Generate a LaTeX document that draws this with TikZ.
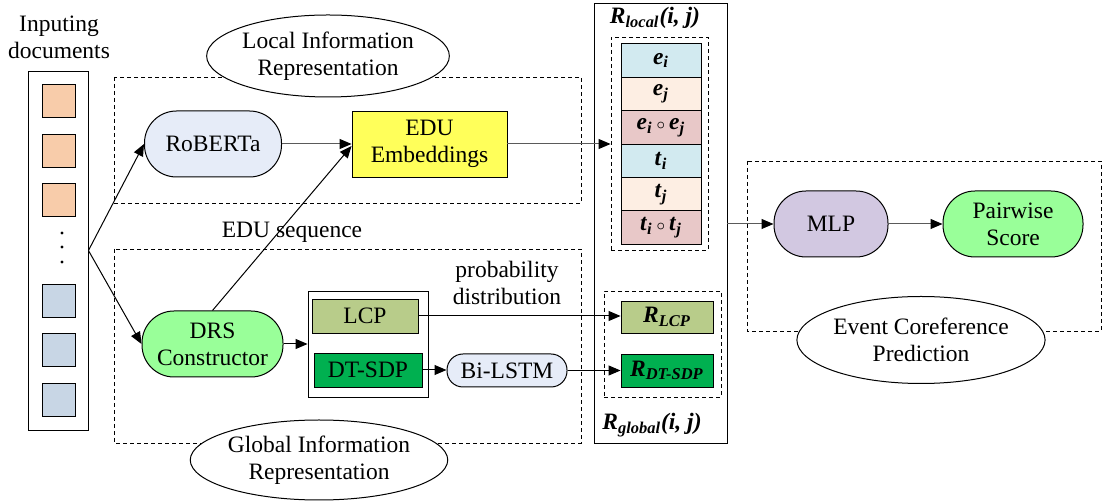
\documentclass[tikz,border=0pt]{standalone}
\usepackage{fontspec}
\setmainfont{Liberation Serif}
\usetikzlibrary{arrows.meta,shapes.geometric}
\definecolor{docor}{RGB}{248,204,170}
\definecolor{docbl}{RGB}{200,214,229}
\definecolor{pillblue}{RGB}{230,236,248}
\definecolor{edu}{RGB}{255,255,90}
\definecolor{lgreen}{RGB}{153,255,153}
\definecolor{olive}{RGB}{184,204,138}
\definecolor{dgreen}{RGB}{0,176,80}
\definecolor{lav}{RGB}{210,200,225}
\definecolor{cellbl}{RGB}{210,234,240}
\definecolor{cellpe}{RGB}{253,238,227}
\definecolor{cellpk}{RGB}{232,200,200}
\definecolor{lgray}{RGB}{90,90,90}
\newcommand{\bit}[1]{\textbf{\textit{#1}}}
\newcommand{\bsubs}[1]{\textsubscript{\bit{#1}}}
\newcommand{\ocirc}{\hspace{2pt}${\scriptstyle\circ}$\hspace{2pt}}
\tikzset{
  pill/.style={draw, line width=0.5pt, rounded corners=16pt, minimum height=33pt, inner sep=0pt, align=center},
  smallpill/.style={draw, line width=0.5pt, rounded corners=8pt, minimum height=16.5pt, inner sep=0pt, align=center},
  box/.style={draw, line width=0.45pt, inner sep=0pt, align=center},
  dbox/.style={draw, line width=0.45pt, dash pattern=on 2pt off 1.5pt},
  ell/.style={draw, ellipse, line width=0.5pt, fill=white, inner sep=0pt, align=center},
  docsq/.style={draw, line width=0.45pt, minimum width=16.5pt, minimum height=16.5pt, inner sep=0pt},
  cell/.style={draw, line width=0.45pt, minimum width=40pt, minimum height=16.67pt, inner sep=0pt},
  arr/.style={-{Triangle[length=6pt,width=5pt,color=black]}, line width=0.5pt},
  garr/.style={arr, draw=lgray},
  lbl/.style={align=center, inner sep=0pt}
}
\begin{document}
\begin{tikzpicture}[x=0.5pt, y=-0.5pt, font=\fontsize{11.75pt}{13.5pt}\selectfont]
\useasboundingbox (0,0) rectangle (1103,501);

% dashed region boxes
\draw[dbox] (114,77) rectangle (581,203);
\draw[dbox] (114,249) rectangle (581,443);
\draw[dbox] (747,161) rectangle (1101,331);

% input documents
\node[lbl] (inlbl) at (59,37) {Inputing\\documents};
\node[box, minimum width=30pt, minimum height=179.5pt] (incol) at (58,250.5) {};
\node[docsq, fill=docor] (d1) at (58.5,100.5) {};
\node[docsq, fill=docor] (d2) at (58.5,150.5) {};
\node[docsq, fill=docor] (d3) at (58.5,200) {};
\node[docsq, fill=docbl] (d4) at (58.5,300.5) {};
\node[docsq, fill=docbl] (d5) at (58.5,350) {};
\node[docsq, fill=docbl] (d6) at (58.5,400) {};
\fill (62,233) circle (1.6);
\fill (62,247) circle (1.6);
\fill (62,262) circle (1.6);

% local branch
\node[pill, fill=pillblue, minimum width=68.5pt] (roberta) at (213,144) {RoBERTa};
\node[box, fill=edu, minimum width=77.5pt, minimum height=33pt] (edu) at (429.5,144) {EDU\\Embeddings};

% global branch
\node[pill, fill=lgreen, minimum width=70.5pt] (drs) at (212.5,344) {DRS\\Constructor};
\node[box, minimum width=60pt, minimum height=53pt] (cont) at (368,344) {};
\node[box, fill=olive, minimum width=53pt, minimum height=17pt] (lcp) at (365,316) {LCP};
\node[box, fill=dgreen, minimum width=54pt, minimum height=17pt] (dtsdp) at (368,370) {DT-SDP};
\node[smallpill, fill=pillblue, minimum width=60pt] (bilstm) at (507,370.5) {Bi-LSTM};

% R column
\node[box, minimum width=66.5pt, minimum height=220pt] (rcol) at (660.5,223) {};
\node[lbl] (rlocal) at (655,18) {\bit{R}\bsubs{local}\bit{(i, j)}};
\node[dbox, minimum width=48.5pt, minimum height=106.5pt, inner sep=0pt] (lstack) at (659.5,143.5) {};
\node[cell, fill=cellbl] (c1) at (661,60.5) {\bit{e}\bsubs{i}};
\node[cell, fill=cellpe] (c2) at (661,94) {\bit{e}\bsubs{j}};
\node[cell, fill=cellpk] (c3) at (661,127.5) {\bit{e}\bsubs{i}\ocirc\bit{e}\bsubs{j}};
\node[cell, fill=cellbl] (c4) at (661,161) {\bit{t}\bsubs{i}};
\node[cell, fill=cellpe] (c5) at (661,194.5) {\bit{t}\bsubs{j}};
\node[cell, fill=cellpk] (c6) at (661,227.5) {\bit{t}\bsubs{i}\ocirc\bit{t}\bsubs{j}};
\node[dbox, minimum width=58.5pt, minimum height=53pt, inner sep=0pt] (gstack) at (662.5,344) {};
\node[box, fill=olive, minimum width=46pt, minimum height=16pt] (rlcp) at (667,317) {\bit{R}\bsubs{LCP}};
\node[box, fill=dgreen, minimum width=46pt, minimum height=16.5pt] (rdt) at (667,370.5) {\bit{R}\bsubs{DT-SDP}};
\node[lbl] (rglobal) at (652,425) {\bit{R}\bsubs{global}\bit{(i, j)}};

% prediction
\node[pill, fill=lav, minimum width=57pt] (mlp) at (831,224) {MLP};
\node[pill, fill=lgreen, minimum width=70pt] (pair) at (1013,224) {Pairwise\\Score};

% ellipses
\node[ell, minimum width=116pt, minimum height=41pt] (elocal) at (328,56) {Local Information\\Representation};
\node[ell, minimum width=126pt, minimum height=40pt] (eglobal) at (319,460) {Global Information\\Representation};
\node[ell, minimum width=124pt, minimum height=43.5pt] (eevent) at (921,340) {Event Coreference\\Prediction};

% labels
\node[lbl] (seqlbl) at (292,232) {EDU sequence};
\node[lbl] (problbl) at (507,283) {probability\\distribution};

% connectors
\coordinate (fork) at (incol.east);
\draw[arr] (fork) -- (roberta.west);
\draw[arr] (fork) -- (drs.west);
\draw[garr] (roberta.east) -- (edu.west);
\draw[arr] (drs.north) -- ([yshift=-1pt]edu.west);
\draw[garr] (edu.east) -- (edu.east -| lstack.west);
\draw[garr] (rcol.east |- mlp.west) -- (mlp.west);
\draw[garr] (mlp.east) -- (pair.west);
\draw[arr] (drs.east) -- (drs.east -| cont.west);
\draw[arr] (dtsdp.east) -- (dtsdp.east -| bilstm.west);
\draw[arr] (bilstm.east) -- (bilstm.east -| rdt.west);
\draw[arr] (lcp.east) -- (lcp.east -| rlcp.west);
\end{tikzpicture}
\end{document}
